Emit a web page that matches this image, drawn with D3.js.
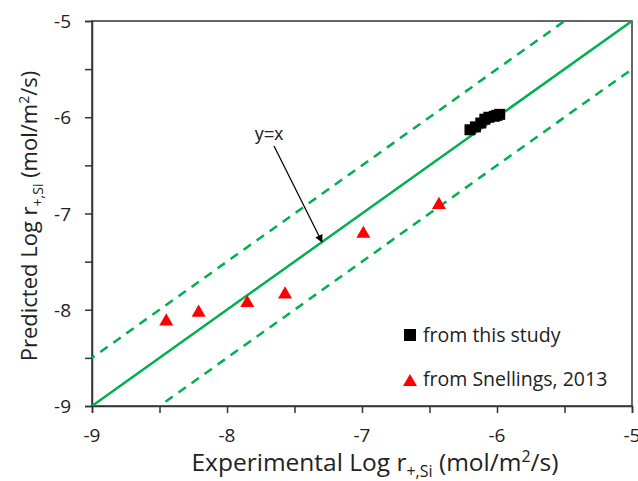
<!DOCTYPE html>
<html><head><meta charset="utf-8">
<script src="https://cdn.jsdelivr.net/npm/d3@7"></script>
<style>body{margin:0;background:#fff}svg text{font-family:"Open Sans","Lato",sans-serif;fill:#222}</style>
</head><body><svg id="c" width="638" height="481"></svg>
<script>
const xTicks = [-9, -8, -7, -6, -5];
const yTicks = [-9, -8, -7, -6, -5];
const studyX = [-6.20, -6.16, -6.12, -6.09, -6.06, -6.02, -6.00, -5.98];
const studyY = [-6.13, -6.10, -6.06, -6.02, -6.00, -5.99, -5.98, -5.97];
const snellX = [-8.45, -8.21, -7.85, -7.57, -6.99, -6.43];
const snellY = [-8.11, -8.02, -7.92, -7.83, -7.20, -6.90];
const offsets = [0.5, -0.5];

const svg = d3.select("#c");
const L = 92, R = 632, T = 21, B = 406;
const x = d3.scaleLinear().domain([-9, -5]).range([L, R]);
const y = d3.scaleLinear().domain([-9, -5]).range([B, T]);
const green = "#00B050";

svg.append("defs").append("clipPath").attr("id","clip")
  .append("rect").attr("x",L).attr("y",T).attr("width",R-L).attr("height",B-T);

svg.append("rect").attr("x",L).attr("y",T).attr("width",R-L).attr("height",B-T)
  .attr("fill","none").attr("stroke","#333").attr("stroke-width",1.5);

const minor = d3.range(-9, -4.99, 0.5);
const xa = svg.append("g").attr("transform",`translate(0,${B})`)
  .call(d3.axisBottom(x).tickValues(minor).tickSize(7).tickFormat(""));
const ya = svg.append("g").attr("transform",`translate(${L},0)`)
  .call(d3.axisLeft(y).tickValues(minor).tickSize(7).tickFormat(""));
[xa, ya].forEach(a => { a.selectAll("path,line").attr("stroke","#333").attr("stroke-width",1.5); });

svg.append("g").selectAll("text").data(xTicks).join("text")
  .attr("x", d => x(d)).attr("y", B + 36).attr("text-anchor","middle")
  .attr("font-size",19).text(d => d);
svg.append("g").selectAll("text").data(yTicks).join("text")
  .attr("x", L - 21).attr("y", d => y(d) + 7).attr("text-anchor","end")
  .attr("font-size",19).text(d => d);

const lg = svg.append("g").attr("clip-path","url(#clip)");
lg.append("line").attr("x1",x(-9)).attr("y1",y(-9)).attr("x2",x(-5)).attr("y2",y(-5))
  .attr("stroke",green).attr("stroke-width",2.5);
offsets.forEach(o => {
  lg.append("line").attr("x1",x(-10)).attr("y1",y(-10+o)).attr("x2",x(-4)).attr("y2",y(-4+o))
    .attr("stroke",green).attr("stroke-width",2.5).attr("stroke-dasharray","9,7");
});

svg.append("g").selectAll("rect").data(studyX).join("rect")
  .attr("x",(d,i)=>x(d)-5.5).attr("y",(d,i)=>y(studyY[i])-5.5)
  .attr("width",11).attr("height",11).attr("fill","#000");
const tri = d3.symbol().type(d3.symbolTriangle).size(85);
svg.append("g").selectAll("path").data(snellX).join("path")
  .attr("d",tri).attr("transform",(d,i)=>`translate(${x(d)},${y(snellY[i])+1})`)
  .attr("fill","#ff0000");

svg.append("defs").append("marker").attr("id","ah").attr("viewBox","0 0 10 10")
  .attr("refX",9).attr("refY",5).attr("markerWidth",6).attr("markerHeight",6).attr("orient","auto")
  .append("path").attr("d","M0,0L10,5L0,10z").attr("fill","#000");
svg.append("line").attr("x1",274).attr("y1",146).attr("x2",322).attr("y2",242)
  .attr("stroke","#000").attr("stroke-width",1.3).attr("marker-end","url(#ah)");
svg.append("text").attr("x",269).attr("y",140).attr("text-anchor","middle")
  .attr("font-size",18).style("font-family","Liberation Sans, Arial, sans-serif").text("y=x");

svg.append("rect").attr("x",404).attr("y",329).attr("width",12).attr("height",12).attr("fill","#000");
svg.append("text").attr("x",423).attr("y",342).attr("font-size",19.5).text("from this study");
svg.append("path").attr("d",tri).attr("transform","translate(410,382)").attr("fill","#ff0000");
svg.append("text").attr("x",423).attr("y",386).attr("font-size",19.5).text("from Snellings, 2013");

const xt = svg.append("text").attr("x",375).attr("y",471).attr("text-anchor","middle").attr("font-size",24.5);
xt.append("tspan").text("Experimental Log r");
xt.append("tspan").attr("font-size",16).attr("dy",6).text("+,Si");
xt.append("tspan").attr("dy",-6).text(" (mol/m");
xt.append("tspan").attr("font-size",16).attr("dy",-9).text("2");
xt.append("tspan").attr("dy",9).text("/s)");

const yt = svg.append("text").attr("transform","translate(37,216) rotate(-90)").attr("text-anchor","middle").attr("font-size",22);
yt.append("tspan").text("Predicted Log r");
yt.append("tspan").attr("font-size",14).attr("dy",6).text("+,Si");
yt.append("tspan").attr("dy",-6).text(" (mol/m");
yt.append("tspan").attr("font-size",14).attr("dy",-8).text("2");
yt.append("tspan").attr("dy",8).text("/s)");
</script></body></html>
